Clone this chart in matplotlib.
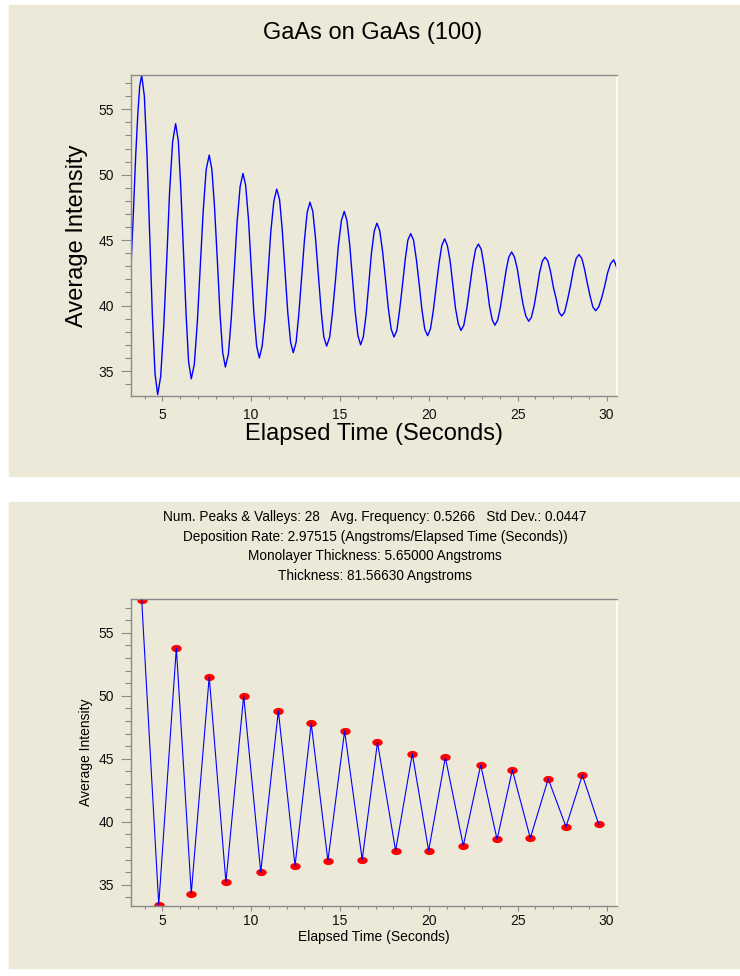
import matplotlib

matplotlib.use("Agg")
import matplotlib.pyplot as plt
import numpy as np
from matplotlib.patches import Rectangle
from matplotlib.path import Path
from matplotlib.ticker import MultipleLocator

# RHEED intensity trace
top_time = [
    3.21, 3.37, 3.50, 3.62, 3.73, 3.84,
    3.99, 4.14, 4.29, 4.44, 4.59, 4.74,
    4.91, 5.08, 5.25, 5.41, 5.58, 5.75,
    5.90, 6.04, 6.19, 6.34, 6.48, 6.63,
    6.80, 6.97, 7.14, 7.30, 7.47, 7.64,
    7.79, 7.94, 8.10, 8.25, 8.40, 8.55,
    8.72, 8.88, 9.05, 9.21, 9.38, 9.54,
    9.69, 9.85, 10.00, 10.15, 10.31, 10.46,
    10.62, 10.79, 10.95, 11.11, 11.28, 11.44,
    11.60, 11.75, 11.91, 12.06, 12.22, 12.37,
    12.53, 12.68, 12.84, 13.00, 13.15, 13.31,
    13.47, 13.62, 13.78, 13.94, 14.09, 14.25,
    14.42, 14.58, 14.75, 14.91, 15.08, 15.24,
    15.39, 15.55, 15.70, 15.85, 16.01, 16.16,
    16.31, 16.47, 16.62, 16.77, 16.93, 17.08,
    17.24, 17.40, 17.56, 17.72, 17.88, 18.04,
    18.20, 18.35, 18.51, 18.67, 18.82, 18.98,
    19.14, 19.30, 19.46, 19.61, 19.77, 19.93,
    20.09, 20.25, 20.41, 20.57, 20.73, 20.89,
    21.04, 21.20, 21.35, 21.50, 21.66, 21.81,
    21.97, 22.14, 22.30, 22.46, 22.63, 22.79,
    22.95, 23.10, 23.26, 23.41, 23.57, 23.72,
    23.88, 24.03, 24.19, 24.35, 24.50, 24.66,
    24.82, 24.98, 25.14, 25.30, 25.46, 25.62,
    25.77, 25.93, 26.08, 26.23, 26.39, 26.54,
    26.70, 26.85, 27.01, 27.17, 27.32, 27.48,
    27.64, 27.80, 27.97, 28.13, 28.29, 28.45,
    28.61, 28.76, 28.92, 29.08, 29.23, 29.39,
    29.56, 29.73, 29.90, 30.06, 30.23, 30.40,
    30.50, 30.60,
]
top_intensity = [
    42.1, 47.0, 51.4, 54.6, 56.8, 57.6,
    56.0, 51.5, 45.4, 39.3, 34.8, 33.2,
    34.6, 38.4, 43.5, 48.7, 52.5, 53.9,
    52.6, 49.0, 44.2, 39.3, 35.7, 34.4,
    35.5, 38.7, 43.0, 47.2, 50.4, 51.5,
    50.4, 47.5, 43.4, 39.3, 36.4, 35.3,
    36.3, 39.0, 42.7, 46.4, 49.1, 50.1,
    49.2, 46.6, 43.0, 39.5, 36.9, 36.0,
    36.9, 39.2, 42.5, 45.7, 48.0, 48.9,
    48.1, 45.8, 42.6, 39.5, 37.2, 36.4,
    37.2, 39.3, 42.1, 45.0, 47.1, 47.9,
    47.2, 45.2, 42.4, 39.6, 37.6, 36.9,
    37.6, 39.5, 42.0, 44.6, 46.5, 47.2,
    46.5, 44.6, 42.1, 39.6, 37.7, 37.0,
    37.6, 39.3, 41.7, 44.0, 45.7, 46.3,
    45.7, 44.1, 42.0, 39.8, 38.2, 37.6,
    38.1, 39.6, 41.5, 43.5, 45.0, 45.5,
    45.0, 43.5, 41.6, 39.7, 38.2, 37.7,
    38.2, 39.6, 41.4, 43.2, 44.6, 45.1,
    44.6, 43.4, 41.6, 39.8, 38.6, 38.1,
    38.5, 39.8, 41.4, 43.0, 44.3, 44.7,
    44.3, 43.1, 41.6, 40.0, 38.9, 38.5,
    38.9, 39.9, 41.3, 42.7, 43.7, 44.1,
    43.7, 42.8, 41.4, 40.1, 39.2, 38.8,
    39.1, 40.0, 41.2, 42.5, 43.4, 43.7,
    43.4, 42.6, 41.4, 40.5, 39.5, 39.2,
    39.5, 40.4, 41.5, 42.7, 43.6, 43.9,
    43.6, 42.8, 41.7, 40.7, 39.9, 39.6,
    39.9, 40.6, 41.5, 42.5, 43.2, 43.5,
    43.2, 42.8,
]

# detected peaks & valleys (lower chart)
extrema_time = [
    3.84, 4.80, 5.79, 6.63, 7.64, 8.58, 9.58, 10.54, 11.53, 12.47,
    13.38, 14.32, 15.26, 16.25, 17.11, 18.13, 19.07, 19.99, 20.93, 21.94,
    22.92, 23.84, 24.70, 25.71, 26.72, 27.72, 28.64, 29.56,
]
extrema_intensity = [
    57.6, 33.4, 53.8, 34.3, 51.5, 35.2, 50.0, 36.0, 48.8, 36.5,
    47.8, 36.9, 47.2, 37.0, 46.3, 37.7, 45.4, 37.7, 45.1, 38.1,
    44.5, 38.6, 44.1, 38.7, 43.4, 39.6, 43.7, 39.8,
]

title = "GaAs on GaAs (100)"
summary_lines = [
    "Num. Peaks & Valleys: 28   Avg. Frequency: 0.5266   Std Dev.: 0.0447",
    "Deposition Rate: 2.97515 (Angstroms/Elapsed Time (Seconds))",
    "Monolayer Thickness: 5.65000 Angstroms",
    "Thickness: 81.56630 Angstroms",
]
x_label = "Elapsed Time (Seconds)"
y_label = "Average Intensity"

PANEL = "#ECE9D8"
FONT = ["Liberation Sans", "DejaVu Sans"]
W, H = 740, 976

plt.rcParams["font.family"] = FONT


def fig_box(left, top, right, bottom):
    """pixel box -> figure fraction rect"""
    return [left / W, 1 - bottom / H, (right - left) / W, (bottom - top) / H]


def style_axes(ax, xlim, ylim, xpad):
    ax.set_facecolor(PANEL)
    ax.set_xlim(*xlim)
    ax.set_ylim(*ylim)
    for side in ("left", "bottom", "top"):
        ax.spines[side].set_color("#8a8a8a")
        ax.spines[side].set_linewidth(1.0)
    ax.spines["right"].set_color("white")
    ax.spines["right"].set_linewidth(1.2)
    ax.xaxis.set_major_locator(MultipleLocator(5))
    ax.xaxis.set_minor_locator(MultipleLocator(1))
    ax.yaxis.set_major_locator(MultipleLocator(5))
    ax.yaxis.set_minor_locator(MultipleLocator(1))
    ax.tick_params(axis="both", which="both", color="#8a8a8a", width=0.8,
                   labelsize=10, labelcolor="#111111")
    ax.tick_params(axis="y", which="major", length=7.2, pad=4.5)
    ax.tick_params(axis="y", which="minor", length=4.0)
    ax.tick_params(axis="x", which="major", length=3.8, pad=xpad)
    ax.tick_params(axis="x", which="minor", length=2.4)


fig = plt.figure(figsize=(W / 100, H / 100), dpi=100, facecolor="white")

# beige panels behind each chart (negative zorder so the axes sit on top)
fig.add_artist(Rectangle((9 / W, 1 - 476 / H), 1 - 9 / W, 471 / H,
                         transform=fig.transFigure, color=PANEL, zorder=-5))
fig.add_artist(Rectangle((9 / W, 1 - 968 / H), 1 - 9 / W, 466 / H,
                         transform=fig.transFigure, color=PANEL, zorder=-5))

# ---- upper chart: raw trace ----
ax1 = fig.add_axes(fig_box(130.5, 75, 617, 396))
style_axes(ax1, (3.21, 30.59), (33.09, 57.62), xpad=4.5)
ax1.plot(top_time, top_intensity, color="#0000ff", lw=1.0)
ax1.set_xlabel(x_label, fontsize=17, va="center")
ax1.xaxis.set_label_coords(0.5, (396 - 434) / 321)
ax1.set_ylabel(y_label, fontsize=17, va="center")
ax1.yaxis.set_label_coords((77 - 130.5) / 486.5, 0.5)
fig.text(373 / W, 1 - 33 / H, title, fontsize=17, ha="center", va="center")

# ---- lower chart: peaks & valleys ----
ax2 = fig.add_axes(fig_box(130.5, 599, 617, 905.5))
style_axes(ax2, (3.21, 30.59), (33.35, 57.68), xpad=2.5)

# flat oval marker like the original software draws
theta = np.linspace(0, 2 * np.pi, 40)
oval = Path(np.column_stack([1.45 * np.cos(theta), np.sin(theta)]))
ax2.plot(extrema_time, extrema_intensity, linestyle="none", marker=oval,
         markersize=7.5, color="#ff0000", markeredgewidth=0, zorder=2)
ax2.plot(extrema_time, extrema_intensity, color="#0000ff", lw=0.8, zorder=3)

ax2.set_xlabel(x_label, fontsize=10, va="center")
ax2.xaxis.set_label_coords(0.5, (905.5 - 937) / 306.5)
ax2.set_ylabel(y_label, fontsize=10, va="center")
ax2.yaxis.set_label_coords((86 - 130.5) / 486.5, 0.5)

for i, line in enumerate(summary_lines):
    fig.text(375 / W, 1 - (517 + 19.6 * i) / H, line, fontsize=9.8,
             ha="center", va="center")

fig.savefig("out.png", dpi=100, facecolor="white")
